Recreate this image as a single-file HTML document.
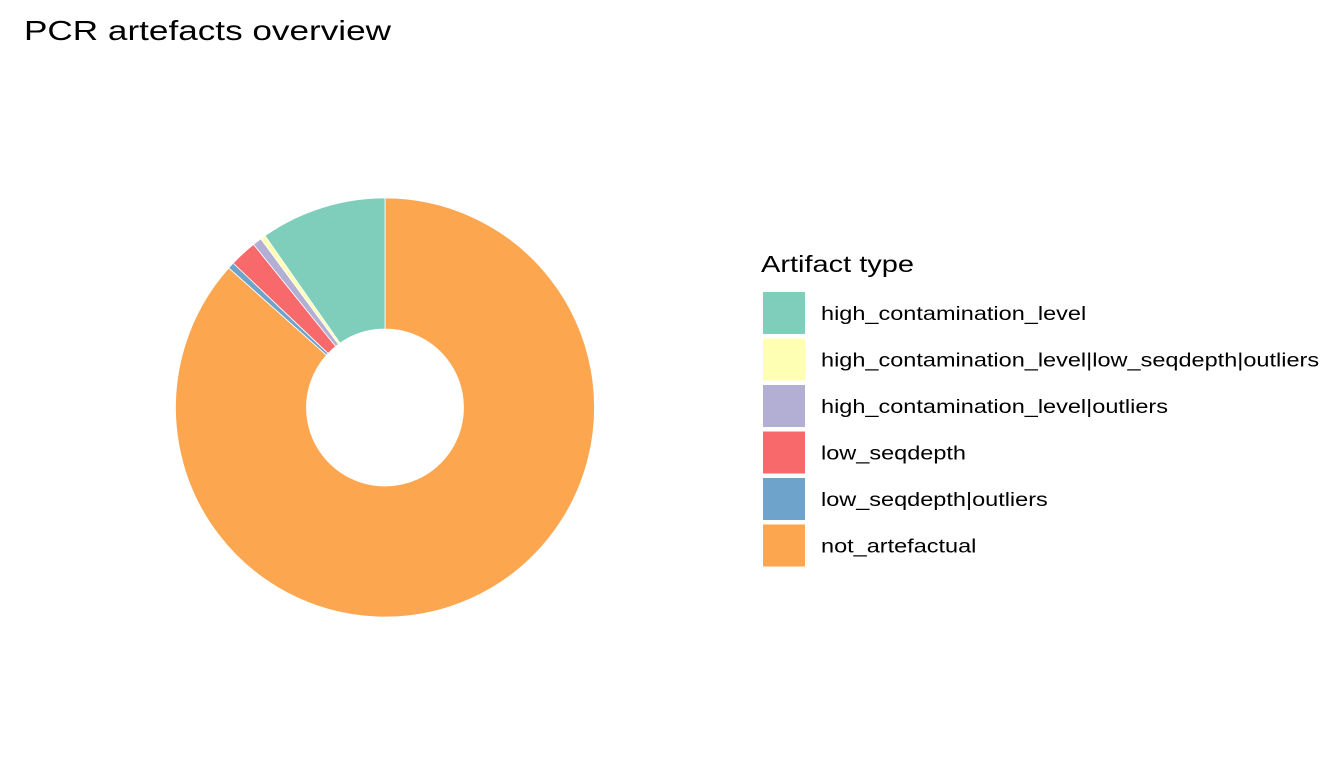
<!DOCTYPE html>
<html><head><meta charset="utf-8"><style>
body{margin:0;width:1344px;height:768px;background:#fff;font-family:"Liberation Sans",Arial,sans-serif;overflow:hidden}
</style></head><body>
<svg id="chart" width="1344" height="768" xmlns="http://www.w3.org/2000/svg">
<text x="24" y="40" font-size="28" fill="#000" textLength="367" lengthAdjust="spacingAndGlyphs">PCR artefacts overview</text>
<g id="donut"></g>
<g id="legend">
<text x="761" y="272" font-size="23" fill="#000" textLength="153" lengthAdjust="spacingAndGlyphs">Artifact type</text>
</g>
</svg>
<script>
const categories=["high_contamination_level","high_contamination_level|low_seqdepth|outliers","high_contamination_level|outliers","low_seqdepth","low_seqdepth|outliers","not_artefactual"];
const counts=[97,4,7,21,5,866];
const colors=["#7fcdbb","#ffffb3","#b3aed3","#f8696b","#6ea3cc","#fca650"];
const NS="http://www.w3.org/2000/svg";
const cx=385,cy=407.5,R=209.5,r=78.5;
const total=counts.reduce((a,b)=>a+b,0);
const donut=document.getElementById('donut');
function pt(a,rad){return [cx+rad*Math.sin(a),cy-rad*Math.cos(a)];}
let start=0;
for(let i=categories.length-1;i>=0;i--){
  const sweep=counts[i]/total*2*Math.PI;
  const end=start+sweep;
  const large=sweep>Math.PI?1:0;
  const [x1,y1]=pt(start,R),[x2,y2]=pt(end,R),[x3,y3]=pt(end,r),[x4,y4]=pt(start,r);
  const p=document.createElementNS(NS,'path');
  p.setAttribute('d',`M${x1},${y1}A${R},${R} 0 ${large} 1 ${x2},${y2}L${x3},${y3}A${r},${r} 0 ${large} 0 ${x4},${y4}Z`);
  p.setAttribute('fill',colors[i]);
  p.setAttribute('stroke','#fff');
  p.setAttribute('stroke-width','0.8');
  
  
  donut.appendChild(p);
  start=end;
}
const legend=document.getElementById('legend');
const ctx=document.createElement('canvas').getContext('2d');
ctx.font='18.5px "Liberation Sans"';
const scale=1.27;
categories.forEach((c,i)=>{
  const y=292+i*46.5;
  const rc=document.createElementNS(NS,'rect');
  rc.setAttribute('x',763);rc.setAttribute('y',y);rc.setAttribute('width',42);rc.setAttribute('height',42);
  rc.setAttribute('fill',colors[i]);
  
  
  legend.appendChild(rc);
  const t=document.createElementNS(NS,'text');
  t.setAttribute('x',821);t.setAttribute('y',y+28);t.setAttribute('font-size','19.5');
  t.setAttribute('textLength',(ctx.measureText(c).width*scale).toFixed(1));
  t.setAttribute('lengthAdjust','spacingAndGlyphs');
  t.textContent=c;
  
  
  legend.appendChild(t);
});
</script>
</body></html>
